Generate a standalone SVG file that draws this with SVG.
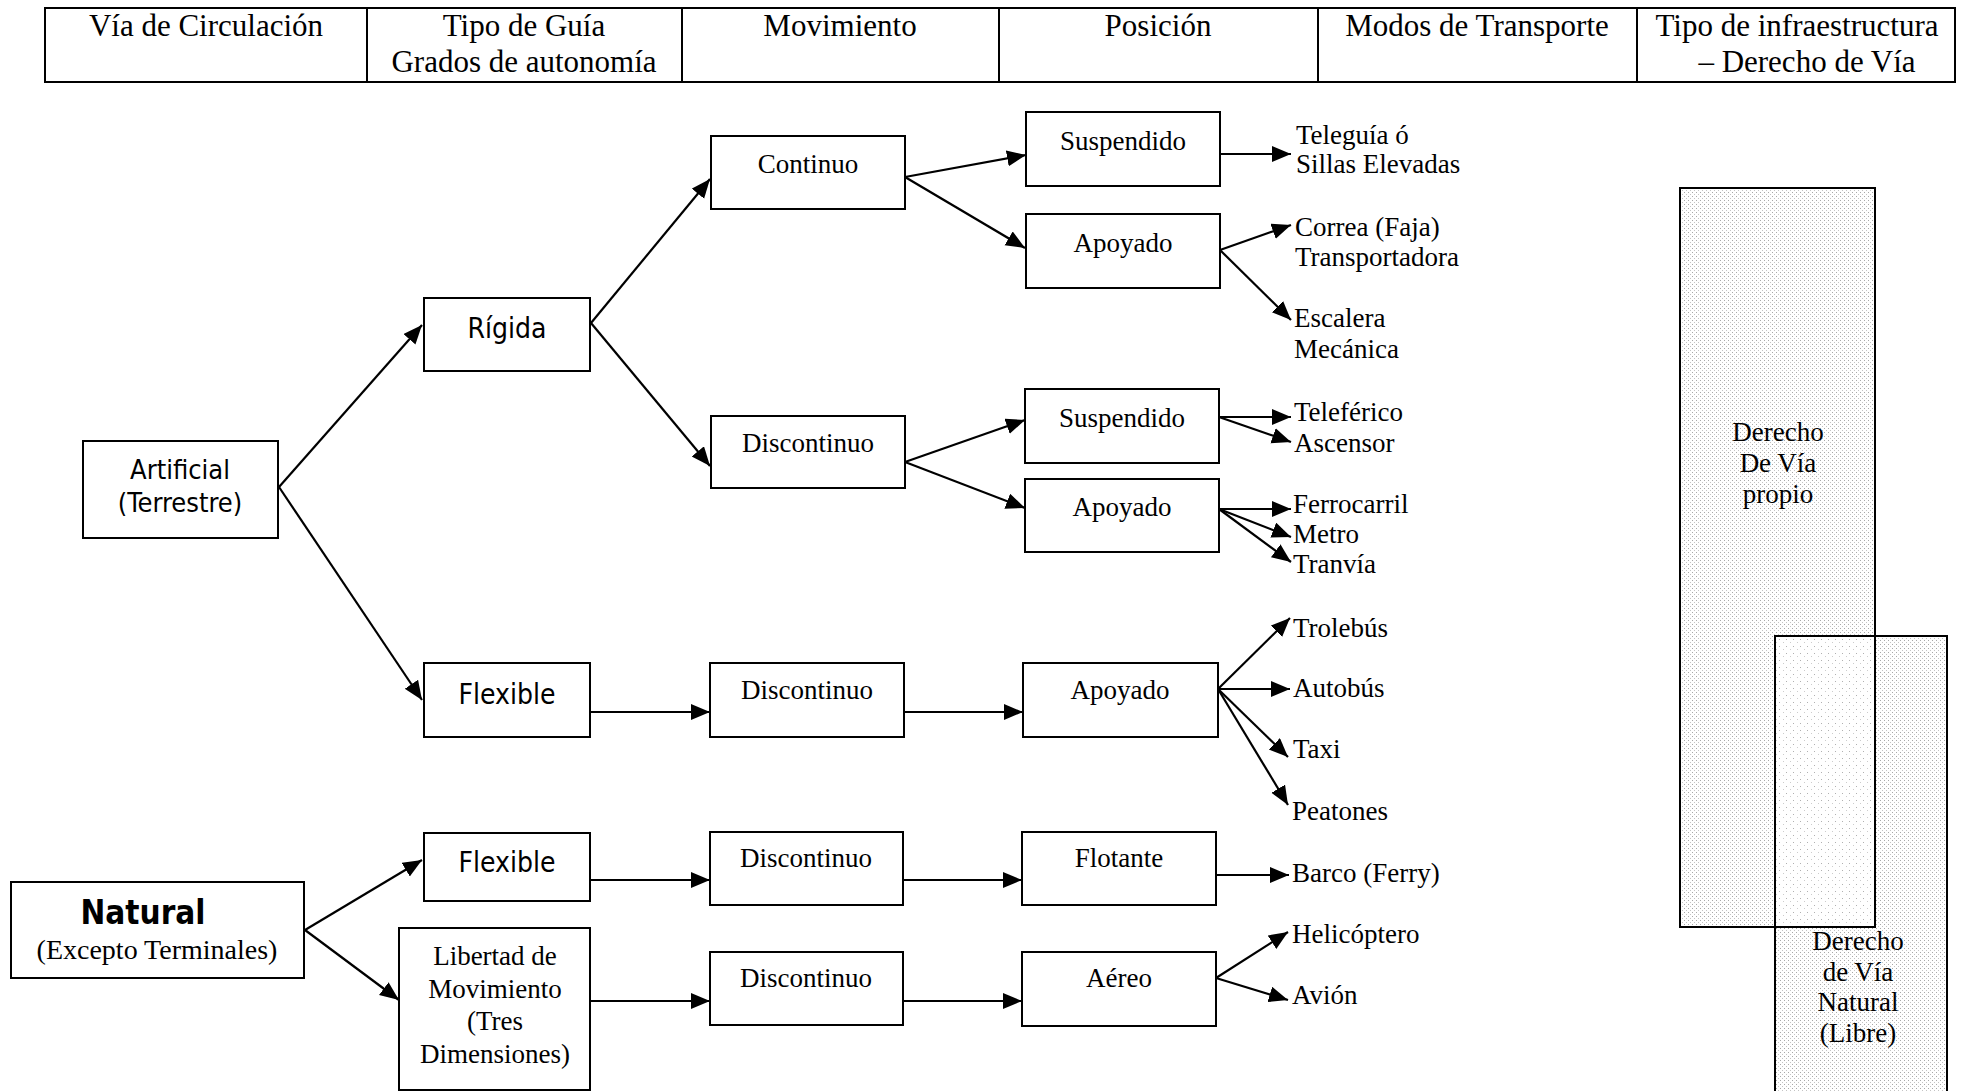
<svg xmlns="http://www.w3.org/2000/svg" width="1963" height="1091" viewBox="0 0 1963 1091">
<style>
.box{fill:#fff;stroke:#000;stroke-width:2}
.hdr{fill:none;stroke:#000;stroke-width:2}
.ser{font-family:"Liberation Serif","Times New Roman",serif;font-size:27px;fill:#000}
.hd{font-family:"Liberation Serif","Times New Roman",serif;font-size:31px;fill:#000;text-anchor:middle}
.san{font-family:"DejaVu Sans Condensed","Liberation Sans",Arial,sans-serif;font-size:28px;fill:#000;text-anchor:middle}
.mid{text-anchor:middle}
.con line{stroke:#000;stroke-width:2.2;marker-end:url(#ah)}
</style>
<defs>
<marker id="ah" markerUnits="userSpaceOnUse" markerWidth="22" markerHeight="18" refX="19" refY="8" orient="auto">
<path d="M0,0 L19,8 L0,16 z" fill="#000"/>
</marker>
<pattern id="stip" width="4" height="4" patternUnits="userSpaceOnUse">
<rect width="4" height="4" fill="#fff"/>
<rect x="0" y="0" width="1" height="1" fill="#a8a8a8"/>
<rect x="2" y="2" width="1" height="1" fill="#c4c4c4"/>
</pattern>
<pattern id="stip2" width="7" height="7" patternUnits="userSpaceOnUse">
<rect width="7" height="7" fill="#fff"/>
<rect x="1" y="2" width="1" height="1" fill="#b0b0b0"/>
<rect x="5" y="5" width="1" height="1" fill="#cccccc"/>
</pattern>
</defs>
<rect width="1963" height="1091" fill="#fff"/>

<g id="header">
<rect class="hdr" x="45" y="8" width="1910" height="74"/>
<line class="hdr" x1="367" y1="8" x2="367" y2="82"/>
<line class="hdr" x1="682" y1="8" x2="682" y2="82"/>
<line class="hdr" x1="999" y1="8" x2="999" y2="82"/>
<line class="hdr" x1="1318" y1="8" x2="1318" y2="82"/>
<line class="hdr" x1="1637" y1="8" x2="1637" y2="82"/>
<text class="hd" x="206" y="36">Vía de Circulación</text>
<text class="hd" x="524" y="36">Tipo de Guía</text>
<text class="hd" x="524" y="72">Grados de autonomía</text>
<text class="hd" x="840" y="36">Movimiento</text>
<text class="hd" x="1158" y="36">Posición</text>
<text class="hd" x="1477" y="36">Modos de Transporte</text>
<text class="hd" x="1797" y="36">Tipo de infraestructura</text>
<text class="hd" x="1807" y="72">– Derecho de Vía</text>
</g>

<g id="derecho-propio">
<rect x="1680" y="188" width="195" height="739" fill="url(#stip)"/>
</g>
<g id="derecho-natural">
<rect x="1775" y="636" width="172" height="460" fill="url(#stip)"/>
<rect x="1776" y="637" width="98" height="289" fill="url(#stip2)"/>
<rect x="1680" y="188" width="195" height="739" fill="none" stroke="#000" stroke-width="2"/>
<rect x="1775" y="636" width="172" height="460" fill="none" stroke="#000" stroke-width="2"/>
<text class="ser mid" x="1778" y="441">Derecho</text>
<text class="ser mid" x="1778" y="472">De Vía</text>
<text class="ser mid" x="1778" y="503">propio</text>
<text class="ser mid" x="1858" y="950">Derecho</text>
<text class="ser mid" x="1858" y="981">de Vía</text>
<text class="ser mid" x="1858" y="1011">Natural</text>
<text class="ser mid" x="1858" y="1042">(Libre)</text>
</g>

<g class="con" id="connectors">
<line x1="279" y1="487" x2="422" y2="325"/>
<line x1="279" y1="487" x2="422" y2="700"/>
<line x1="591" y1="323" x2="710" y2="179"/>
<line x1="591" y1="323" x2="710" y2="466"/>
<line x1="905" y1="177" x2="1026" y2="155"/>
<line x1="905" y1="177" x2="1025" y2="248"/>
<line x1="1220" y1="154" x2="1291" y2="154"/>
<line x1="1220" y1="250" x2="1291" y2="225"/>
<line x1="1220" y1="250" x2="1291" y2="320"/>
<line x1="905" y1="462" x2="1025" y2="420"/>
<line x1="905" y1="462" x2="1025" y2="508"/>
<line x1="1219" y1="417" x2="1291" y2="417"/>
<line x1="1219" y1="417" x2="1291" y2="442"/>
<line x1="1219" y1="509" x2="1291" y2="509"/>
<line x1="1219" y1="509" x2="1291" y2="537"/>
<line x1="1219" y1="509" x2="1291" y2="562"/>
<line x1="591" y1="712" x2="710" y2="712"/>
<line x1="904" y1="712" x2="1023" y2="712"/>
<line x1="1218" y1="689" x2="1290" y2="618"/>
<line x1="1218" y1="689" x2="1290" y2="689"/>
<line x1="1218" y1="689" x2="1288" y2="757"/>
<line x1="1218" y1="689" x2="1288" y2="805"/>
<line x1="305" y1="930" x2="422" y2="860"/>
<line x1="305" y1="930" x2="399" y2="1000"/>
<line x1="591" y1="880" x2="710" y2="880"/>
<line x1="903" y1="880" x2="1022" y2="880"/>
<line x1="1216" y1="875" x2="1289" y2="875"/>
<line x1="591" y1="1001" x2="710" y2="1001"/>
<line x1="904" y1="1001" x2="1022" y2="1001"/>
<line x1="1216" y1="978" x2="1288" y2="932"/>
<line x1="1216" y1="978" x2="1288" y2="1000"/>
</g>

<g id="artificial"><rect class="box" x="83" y="441" width="195" height="97"/>
<text class="san" x="180" y="479" style="font-size:27px">Artificial</text><text class="san" x="180" y="512" style="font-size:27px">(Terrestre)</text></g>
<g id="rigida"><rect class="box" x="424" y="298" width="166" height="73"/>
<text class="san" x="507" y="338">Rígida</text></g>
<g id="flexible1"><rect class="box" x="424" y="663" width="166" height="74"/>
<text class="san" x="507" y="704">Flexible</text></g>
<g id="natural"><rect class="box" x="11" y="882" width="293" height="96"/>
<text class="san" x="143" y="924" style="font-weight:bold;font-size:33px">Natural</text>
<text class="ser mid" x="157" y="959" style="font-size:28px">(Excepto Terminales)</text></g>
<g id="flexible2"><rect class="box" x="424" y="833" width="166" height="68"/>
<text class="san" x="507" y="872">Flexible</text></g>
<g id="libertad"><rect class="box" x="399" y="928" width="191" height="162"/>
<text class="ser mid" x="495" y="965">Libertad de</text>
<text class="ser mid" x="495" y="998">Movimiento</text>
<text class="ser mid" x="495" y="1030">(Tres</text>
<text class="ser mid" x="495" y="1063">Dimensiones)</text></g>

<g id="continuo"><rect class="box" x="711" y="136" width="194" height="73"/>
<text class="ser mid" x="808" y="173">Continuo</text></g>
<g id="discontinuo1"><rect class="box" x="711" y="416" width="194" height="72"/>
<text class="ser mid" x="808" y="452">Discontinuo</text></g>
<g id="discontinuo2"><rect class="box" x="710" y="663" width="194" height="74"/>
<text class="ser mid" x="807" y="699">Discontinuo</text></g>
<g id="discontinuo3"><rect class="box" x="710" y="832" width="193" height="73"/>
<text class="ser mid" x="806" y="867">Discontinuo</text></g>
<g id="discontinuo4"><rect class="box" x="710" y="952" width="193" height="73"/>
<text class="ser mid" x="806" y="987">Discontinuo</text></g>

<g id="suspendido1"><rect class="box" x="1026" y="112" width="194" height="74"/>
<text class="ser mid" x="1123" y="150">Suspendido</text></g>
<g id="apoyado1"><rect class="box" x="1026" y="214" width="194" height="74"/>
<text class="ser mid" x="1123" y="252">Apoyado</text></g>
<g id="suspendido2"><rect class="box" x="1025" y="389" width="194" height="74"/>
<text class="ser mid" x="1122" y="427">Suspendido</text></g>
<g id="apoyado2"><rect class="box" x="1025" y="479" width="194" height="73"/>
<text class="ser mid" x="1122" y="516">Apoyado</text></g>
<g id="apoyado3"><rect class="box" x="1023" y="663" width="195" height="74"/>
<text class="ser mid" x="1120" y="699">Apoyado</text></g>
<g id="flotante"><rect class="box" x="1022" y="832" width="194" height="73"/>
<text class="ser mid" x="1119" y="867">Flotante</text></g>
<g id="aereo"><rect class="box" x="1022" y="952" width="194" height="74"/>
<text class="ser mid" x="1119" y="987">Aéreo</text></g>

<g id="modos">
<text class="ser" x="1296" y="144">Teleguía ó</text>
<text class="ser" x="1296" y="173">Sillas Elevadas</text>
<text class="ser" x="1295" y="236">Correa (Faja)</text>
<text class="ser" x="1295" y="266">Transportadora</text>
<text class="ser" x="1294" y="327">Escalera</text>
<text class="ser" x="1294" y="358">Mecánica</text>
<text class="ser" x="1294" y="421">Teleférico</text>
<text class="ser" x="1294" y="452">Ascensor</text>
<text class="ser" x="1293" y="513">Ferrocarril</text>
<text class="ser" x="1293" y="543">Metro</text>
<text class="ser" x="1293" y="573">Tranvía</text>
<text class="ser" x="1293" y="637">Trolebús</text>
<text class="ser" x="1293" y="697">Autobús</text>
<text class="ser" x="1293" y="758">Taxi</text>
<text class="ser" x="1292" y="820">Peatones</text>
<text class="ser" x="1292" y="882">Barco (Ferry)</text>
<text class="ser" x="1292" y="943">Helicóptero</text>
<text class="ser" x="1292" y="1004">Avión</text>
</g>
</svg>
